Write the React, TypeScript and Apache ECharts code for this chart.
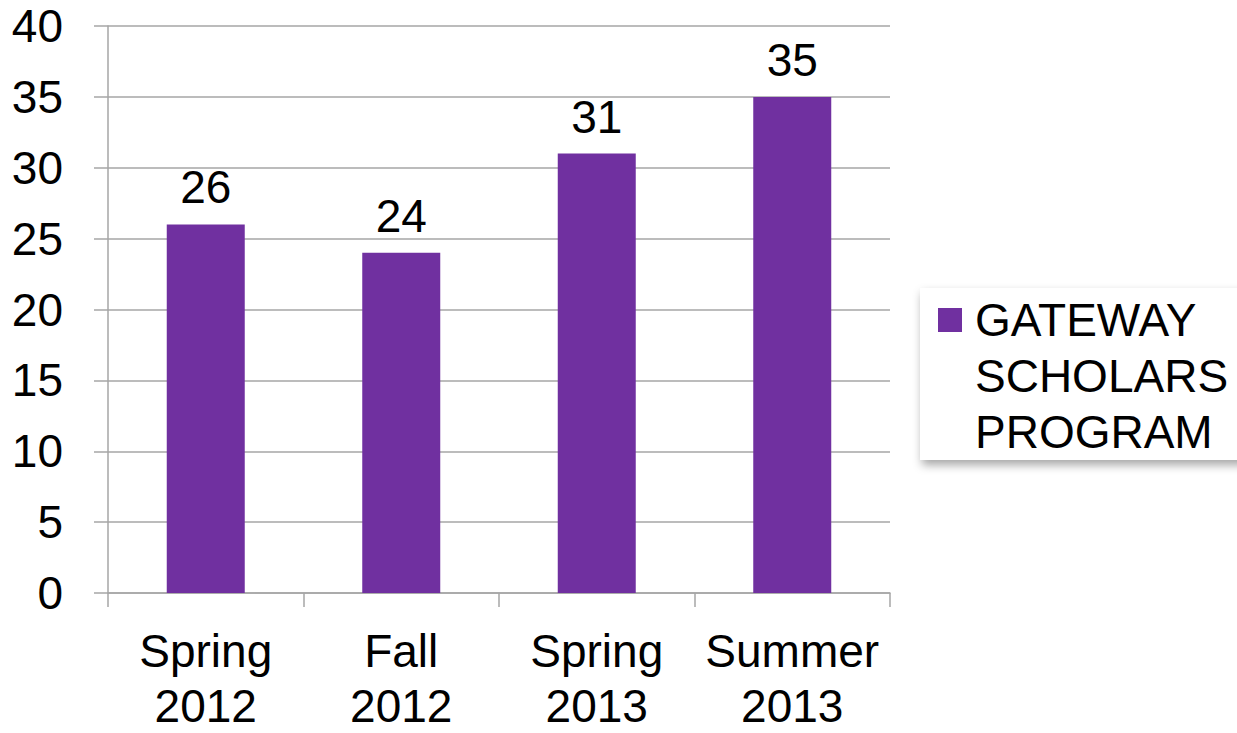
import React, { useEffect, useRef } from "react";
import * as echarts from "echarts";

const categories = ["Spring\n2012", "Fall\n2012", "Spring\n2013", "Summer\n2013"];
const seriesName = "GATEWAY\nSCHOLARS\nPROGRAM";
const values = [26, 24, 31, 35];
const yTicks = { min: 0, max: 40, interval: 5 };

const PURPLE = "#7030A0";
const GRID = "#A6A6A6";
const FONT = "'Liberation Sans', Arial, sans-serif";

export default function App() {
  const ref = useRef<HTMLDivElement>(null);
  useEffect(() => {
    document.body.style.margin = "0";
    const chart = echarts.init(ref.current!, null, { renderer: "svg" });
    chart.setOption({
      animation: false,
      backgroundColor: "#ffffff",
      grid: { left: 108, right: 347, top: 26, bottom: 130, containLabel: false },
      xAxis: {
        type: "category",
        data: categories,
        axisLine: { show: true, lineStyle: { color: GRID, width: 1.5 } },
        axisTick: { show: true, length: 14, lineStyle: { color: GRID, width: 1.5 } },
        axisLabel: {
          color: "#000",
          fontFamily: FONT,
          fontSize: 46,
          lineHeight: 55,
          margin: 30,
          interval: 0,
        },
      },
      yAxis: {
        type: "value",
        min: yTicks.min,
        max: yTicks.max,
        interval: yTicks.interval,
        axisLine: { show: true, lineStyle: { color: GRID, width: 1.5 } },
        axisTick: { show: true, length: 14, lineStyle: { color: GRID, width: 1.5 } },
        splitLine: { show: true, lineStyle: { color: GRID, width: 1.5 } },
        axisLabel: {
          color: "#000",
          fontFamily: FONT,
          fontSize: 46,
          margin: 45,
        },
      },
      series: [
        {
          type: "bar",
          name: seriesName,
          data: values,
          barWidth: 78,
          itemStyle: { color: PURPLE },
          label: {
            show: true,
            position: "top",
            distance: 14,
            color: "#000",
            fontFamily: FONT,
            fontSize: 46,
          },
        },
      ],
      graphic: [
        {
          type: "rect",
          shape: { x: 920, y: 288, width: 330, height: 172 },
          style: {
            fill: "#ffffff",
            shadowBlur: 10,
            shadowOffsetX: 2,
            shadowOffsetY: 5,
            shadowColor: "rgba(0,0,0,0.35)",
          },
          z: 10,
        },
        {
          type: "rect",
          shape: { x: 938, y: 308, width: 24, height: 24 },
          style: { fill: PURPLE },
          z: 11,
        },
        {
          type: "text",
          x: 975,
          y: 292,
          style: {
            text: seriesName,
            fill: "#000",
            font: `46px ${FONT}`,
            lineHeight: 56,
            verticalAlign: "top",
            align: "left",
          },
          z: 11,
        },
      ],
    });
    return () => chart.dispose();
  }, []);
  return (
    <div
      ref={ref}
      style={{ position: "fixed", left: 0, top: 0, width: 1237, height: 733 }}
    />
  );
}
